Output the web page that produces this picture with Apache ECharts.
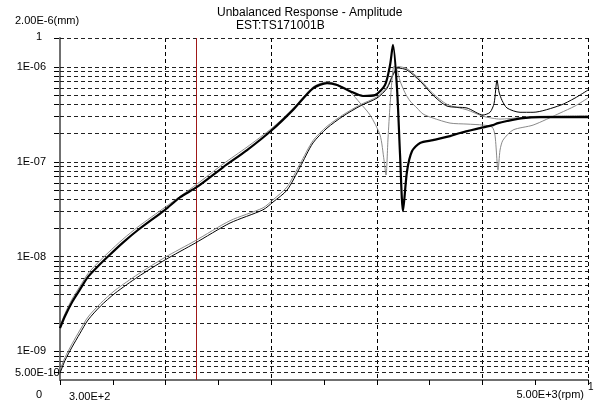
<!DOCTYPE html>
<html>
<head>
<meta charset="utf-8">
<script src="https://cdn.jsdelivr.net/npm/echarts@6/dist/echarts.min.js"></script>
<style>
html,body{margin:0;padding:0;background:#fff;}
#chart{width:600px;height:405px;}
</style>
</head>
<body>
<div id="chart"></div>
<script>
// ---- axis ranges ----
const rpmMin = 300, rpmMax = 5000;
const ampMin = 5e-10, ampMax = 2e-6;
const markerRpm = 1510;

// ---- text ----
const titleLine1 = 'Unbalanced Response - Amplitude';
const titleLine2 = 'EST:TS171001B';
const yUnitLabel = '2.00E-6(mm)';
const yMinLabel = '5.00E-10';
const xMinLabel = '3.00E+2';
const xMaxLabel = '5.00E+3(rpm)';

// ---- series: thick black ----
const thickRpm = [300,344,407,478,549,638,727,860,994,1235,1368,1520,1751,1965,2187,2374,2552,2677,2766,2882,2997,3104,3193,3238,3264,3300,3327,3353,3389,3434,3505,3620,3772,3861,4039,4155,4199,4279,4422,4573,5000];
const thickAmp = [1.76e-9,2.35e-9,3.3e-9,4.5e-9,6.1e-9,7.9e-9,1.0e-8,1.4e-8,1.9e-8,3.1e-8,4.2e-8,5.4e-8,8.7e-8,1.32e-7,2.15e-7,3.5e-7,5.9e-7,6.7e-7,6.4e-7,5.5e-7,4.9e-7,5.0e-7,6.4e-7,1.04e-6,1.69e-6,5.9e-7,1.17e-7,3.0e-8,7.9e-8,1.29e-7,1.57e-7,1.68e-7,1.85e-7,2.0e-7,2.25e-7,2.42e-7,2.54e-7,2.67e-7,2.87e-7,2.94e-7,2.94e-7];

// ---- series: thin gray companion of thick curve ----
const grayARpm = [300,344,407,478,549,638,727,860,994,1235,1520,1751,1965,2187,2374,2552,2677,2766,2882,2971,3060,3149,3184,3202,3220,3238,3255,3273,3300,3327,3371,3416,3478,3531,3620,3772,3923,4066,4146,4172,4199,4217,4243,4333,4511,4751,4884,5000];
const grayAAmp = [1.85e-9,2.5e-9,3.55e-9,4.85e-9,6.6e-9,8.6e-9,1.09e-8,1.52e-8,2.05e-8,3.3e-8,5.8e-8,9.4e-8,1.42e-7,2.25e-7,3.6e-7,6.1e-7,6.9e-7,6.5e-7,5.4e-7,4.13e-7,3.09e-7,1.9e-7,1.04e-7,7.2e-8,1.77e-7,3.94e-7,7.2e-7,1.01e-6,9.2e-7,7.05e-7,5.3e-7,4.34e-7,3.66e-7,3.17e-7,2.87e-7,2.54e-7,2.48e-7,2.42e-7,2.31e-7,1.9e-7,8.1e-8,1.32e-7,1.68e-7,2.15e-7,2.42e-7,3.24e-7,3.84e-7,4.66e-7];

// ---- series: thin black (lower start) ----
const blackBRpm = [300,344,407,478,549,660,790,994,1235,1502,1813,2107,2196,2321,2436,2552,2677,2819,2971,3122,3211,3264,3309,3389,3505,3620,3745,3923,4066,4128,4164,4190,4208,4235,4279,4395,4511,4751,4884,5000];
const blackBAmp = [5.9e-10,8.0e-10,1.11e-9,1.55e-9,2.14e-9,3.0e-9,4.1e-9,6.1e-9,9.2e-9,1.38e-8,2.25e-8,3.1e-8,3.74e-8,5.0e-8,8.7e-8,1.57e-7,2.25e-7,3.0e-7,3.84e-7,4.66e-7,5.9e-7,8.15e-7,9.66e-7,9.2e-7,7.05e-7,5.0e-7,3.84e-7,3.66e-7,3.09e-7,3.3e-7,4.1e-7,7.2e-7,5.4e-7,4.4e-7,3.66e-7,3.3e-7,3.3e-7,3.9e-7,4.66e-7,5.66e-7];

// ---- series: thin gray (lower start) ----
const grayBRpm = [300,344,407,478,549,660,790,994,1235,1502,1813,2107,2196,2321,2436,2552,2677,2819,2971,3122,3211,3264,3309,3389,3505,3620,3745,3923,4066,4155,4217,4395,4511,4751,5000];
const grayBAmp = [6.4e-10,8.6e-10,1.2e-9,1.68e-9,2.3e-9,3.2e-9,4.4e-9,6.5e-9,9.8e-9,1.46e-8,2.38e-8,3.25e-8,3.95e-8,5.4e-8,9.4e-8,1.66e-7,2.35e-7,3.1e-7,3.95e-7,4.8e-7,6.1e-7,8.4e-7,1.0e-6,9.5e-7,7.3e-7,5.2e-7,4.0e-7,3.5e-7,3.0e-7,2.85e-7,2.8e-7,2.9e-7,2.98e-7,3.02e-7,3.05e-7];

// horizontal grid values (1..9 x each decade within range)
const yGrid = [];
for (let e = -10; e <= -6; e++) {
  for (let m = 1; m <= 9; m++) {
    const v = Number(m + 'e' + e);
    if (v > ampMin * 1.001 && v <= ampMax * 1.001) yGrid.push(v);
  }
}

const zip = (a, b) => a.map((x, i) => [x, b[i]]);

const chart = echarts.init(document.getElementById('chart'), null, {renderer: 'canvas'});
const FONT = '"Liberation Sans", Arial, sans-serif';
const SMOOTH = 0.25;

const option = {
  animation: false,
  backgroundColor: '#fff',
  grid: {left: 60, right: 12, top: 38, bottom: 25, containLabel: false, outerBoundsMode: 'none'},
  xAxis: [
    {type: 'value', min: rpmMin, max: rpmMax,
     axisLine: {show: true, onZero: false, lineStyle: {color: '#707070', width: 2}},
     axisTick: {show: false}, axisLabel: {show: false}, splitLine: {show: false}},
    {type: 'value', min: 0, max: 10, interval: 1, position: 'bottom',
     axisLine: {show: false}, axisTick: {show: true, length: 5, lineStyle: {color: '#000'}},
     axisLabel: {show: false}, splitLine: {show: false}},
    {type: 'value', min: 0, max: 5, interval: 1, position: 'bottom',
     axisLine: {show: false}, axisTick: {show: false}, axisLabel: {show: false},
     splitLine: {show: true, lineStyle: {color: '#000', type: [4, 3], width: 1}}}
  ],
  yAxis: {
    type: 'log', logBase: 10, min: ampMin, max: ampMax,
    axisLine: {show: true, lineStyle: {color: '#707070', width: 2}},
    axisTick: {show: false},
    splitLine: {show: false},
    axisLabel: {
      color: '#000', fontSize: 11, fontFamily: FONT, margin: 14,
      formatter: function (v) {
        const l = Math.log10(v);
        const r = Math.round(l);
        if (Math.abs(l - r) < 1e-6 && v < ampMax * 0.9 && v > ampMin * 1.1) {
          return '1E-' + String(-r).padStart(2, '0');
        }
        return '';
      }
    }
  },
  series: [
    {
      type: 'custom', name: 'grid', silent: true, clip: false, z: 1,
      data: yGrid.map(v => [rpmMin, v]),
      renderItem: function (params, api) {
        const p0 = api.coord([rpmMin, api.value(1)]);
        const p1 = api.coord([rpmMax, api.value(1)]);
        const y = Math.round(p0[1]) + 0.5;
        return {
          type: 'group',
          children: [
            {type: 'line', shape: {x1: p0[0], y1: y, x2: p1[0], y2: y},
             style: {stroke: '#222', lineWidth: 1, lineDash: [4, 3]}},
            {type: 'line', shape: {x1: p0[0] - 6, y1: y, x2: p0[0] - 1, y2: y},
             style: {stroke: '#000', lineWidth: 1}}
          ]
        };
      }
    },
    {
      type: 'custom', name: 'marker', silent: true, clip: false, z: 2,
      data: [[markerRpm]],
      renderItem: function (params, api) {
        const pt = api.coord([api.value(0), ampMax]);
        const pb = api.coord([api.value(0), ampMin]);
        const x = Math.round(pt[0]) + 0.5;
        return {type: 'line', shape: {x1: x, y1: pt[1], x2: x, y2: pb[1]},
                style: {stroke: '#a01818', lineWidth: 1}};
      }
    },
    {type: 'line', name: 'grayB', data: zip(grayBRpm, grayBAmp), showSymbol: false, z: 3, smooth: SMOOTH,
     lineStyle: {color: '#8a8a8a', width: 1}, silent: true},
    {type: 'line', name: 'blackB', data: zip(blackBRpm, blackBAmp), showSymbol: false, z: 4, smooth: SMOOTH,
     lineStyle: {color: '#000', width: 1}, silent: true},
    {type: 'line', name: 'grayA', data: zip(grayARpm, grayAAmp), showSymbol: false, z: 5, smooth: SMOOTH,
     lineStyle: {color: '#8a8a8a', width: 1}, silent: true},
    {type: 'line', name: 'thick', data: zip(thickRpm, thickAmp), showSymbol: false, z: 6, smooth: SMOOTH,
     lineStyle: {color: '#000', width: 2.2}, silent: true}
  ],
  graphic: [
    {type: 'text', left: 217, top: 7, style: {text: titleLine1, font: '12px ' + FONT, fill: '#000'}},
    {type: 'text', left: 236, top: 20, style: {text: titleLine2, font: '12px ' + FONT, fill: '#000'}},
    {type: 'text', left: 15, top: 15, style: {text: yUnitLabel, font: '11px ' + FONT, fill: '#000'}},
    {type: 'text', left: 36, top: 31, style: {text: '1', font: '11px ' + FONT, fill: '#000'}},
    {type: 'text', left: 15, top: 367, style: {text: yMinLabel, font: '11px ' + FONT, fill: '#000'}},
    {type: 'text', left: 36, top: 389, style: {text: '0', font: '11px ' + FONT, fill: '#000'}},
    {type: 'text', left: 69, top: 391, style: {text: xMinLabel, font: '11px ' + FONT, fill: '#000'}},
    {type: 'text', right: 16, top: 389, style: {text: xMaxLabel, font: '11px ' + FONT, fill: '#000'}},
    {type: 'text', left: 588, top: 382, style: {text: '1', font: '10px ' + FONT, fill: '#000'}}
  ]
};
chart.setOption(option);
</script>
</body>
</html>
